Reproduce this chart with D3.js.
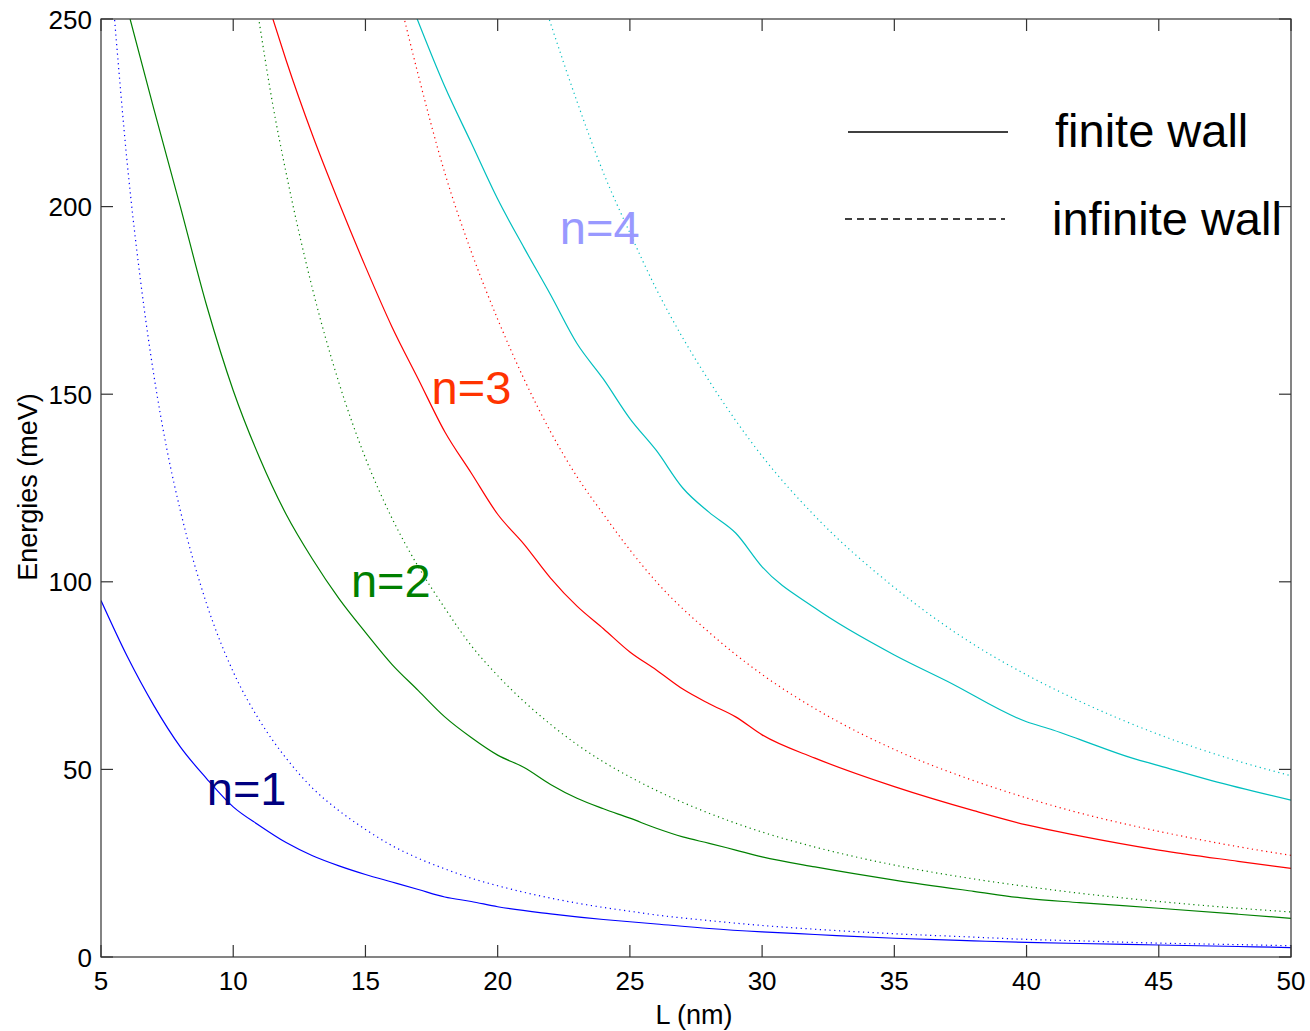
<!DOCTYPE html>
<html lang="en">
<head>
<meta charset="UTF-8">
<title>Energies vs L</title>
<script src="https://d3js.org/d3.v7.min.js"></script>
<style>
  body { margin: 0; background: #fff; }
  svg { display: block; font-family: "Liberation Sans", Arial, sans-serif; }
  .frame { fill: none; stroke: #333; stroke-width: 1.2px; }
  .tick-mark { stroke: #333; stroke-width: 1.2px; }
  .tick-label { font-size: 26px; fill: #000; }
  .axis-title { font-size: 27px; fill: #000; }
  .curve { fill: none; stroke-width: 1.2px; }
  .legend-text { font-size: 47px; fill: #000; }
  .n-label { font-size: 47px; }
</style>
</head>
<body>
<svg width="1310" height="1031"></svg>
<script>
// axis ticks
const xTicks = [5, 10, 15, 20, 25, 30, 35, 40, 45, 50];
const yTicks = [0, 50, 100, 150, 200, 250];

// finite wall levels, [L (nm), E (meV)]
const finiteN1 = [[5,95],[6,80],[7,67],[8,56],[9,47.5],[10,40],[11,35],[12,30.5],[13,27],[14,24.3],[15,22],[16,20],[17,18],[18,16],[19,14.8],[20,13.4],[22,11.5],[24,10],[25,9.4],[26,8.8],[28,7.6],[30,6.7],[32,6],[35,5],[38,4.3],[40,3.9],[42,3.6],[45,3.2],[48,2.8],[50,2.5]];
const finiteN2 = [[6.1,250],[7,226],[8,200],[9,173.5],[10,151],[11,133],[12,118],[13,106],[14,95.5],[15,86.5],[16,78],[17,71],[18,64],[19,58.5],[20,53.8],[21,50.5],[22,46],[23,42.3],[24,39.5],[25,37],[26,34.3],[27,32],[28,30.3],[29,28.5],[30,26.7],[32,24],[35,20.5],[38,17.5],[40,15.6],[42,14.5],[45,13],[48,11.4],[50,10.3]];
const finiteN3 = [[11.5,250],[12,239],[13,219],[14,201],[15,184],[16,168],[17,154],[18,140],[19,129],[20,118],[21,110],[22,101],[23,93.5],[24,87.5],[25,81.3],[26,76.5],[27,71.4],[28,67.5],[29,64],[30,59.2],[32,53],[35,45.4],[38,39],[40,35.2],[42,32.3],[45,28.5],[48,25.5],[50,23.6]];
const finiteN4 = [[16.9,251],[18,232],[19,217],[20,202],[21,189],[22,176.5],[23,163.5],[24,154],[25,143.5],[26,135],[27,125],[28,118.5],[29,113],[30,104],[32,93],[35,80.5],[37,73.5],[40,62.7],[41,60.5],[42,58],[44,53],[45,51],[47,47],[50,41.8]];

// infinite wall levels
const infiniteN1 = [[5.5,251],[6,211],[6.5,180],[7,155],[7.5,135],[8,119],[9,94],[10,76],[11,63],[12,53],[13,45],[14,39],[15,34],[16,29.7],[17,26.3],[18,23.5],[19,21],[20,19],[22,15.7],[24,13.2],[25,12.2],[26,11.2],[28,9.7],[30,8.4],[32,7.4],[35,6.2],[38,5.3],[40,4.7],[42,4.3],[45,3.7],[48,3.3],[50,3.0]];
const infiniteN2 = [[10.9,253],[11.5,227],[12,209],[13,178],[14,153],[15,133],[16,117],[17,104],[18,93],[19,83],[20,75],[22,62],[24,52],[25,48],[26,44.4],[28,38.3],[30,33.3],[32,29.3],[35,24.5],[38,20.8],[40,18.8],[42,17],[45,14.8],[48,13],[50,12]];
const infiniteN3 = [[16.4,252],[17,235],[18,209],[19,188],[20,170],[21,154],[22,140],[23,128],[24,118],[25,108.5],[26,100],[28,86.5],[30,75.3],[32,66.2],[35,55.3],[38,47],[40,42.4],[42,38.4],[45,33.5],[48,29.4],[50,27.1]];
const infiniteN4 = [[21.9,251],[23,228],[24,209],[25,193],[26,178],[27,165],[28,153.5],[30,133.5],[32,117.5],[35,98.5],[38,83.3],[40,75.2],[42,68.2],[45,59.3],[48,52.2],[50,48.3]];

const curveColors = ["#0000ff", "#008000", "#ff0000", "#00bfbf"];
const labelText = ["n=1", "n=2", "n=3", "n=4"];
const labelColors = ["#000080", "#008000", "#ff3300", "#9999ff"];
const labelPos = [[9.0, 40.5], [14.45, 96], [17.5, 147.4], [22.35, 190]]; // [L, E] of label baseline start

const svg = d3.select("svg");
const plotLeft = 101, plotRight = 1291, plotTop = 19, plotBottom = 957;

const x = d3.scaleLinear().domain([5, 50]).range([plotLeft, plotRight]);
const y = d3.scaleLinear().domain([0, 250]).range([plotBottom, plotTop]);

svg.append("clipPath").attr("id", "plot-clip")
  .append("rect")
  .attr("x", plotLeft).attr("y", plotTop)
  .attr("width", plotRight - plotLeft).attr("height", plotBottom - plotTop);

const line = d3.line()
  .x(d => x(d[0]))
  .y(d => y(d[1]))
  .curve(d3.curveMonotoneX);

const plot = svg.append("g").attr("clip-path", "url(#plot-clip)");

const infinite = [infiniteN1, infiniteN2, infiniteN3, infiniteN4];
const finite = [finiteN1, finiteN2, finiteN3, finiteN4];

infinite.forEach((s, i) => {
  plot.append("path")
    .attr("class", "curve")
    .attr("d", line(s))
    .attr("stroke", curveColors[i])
    .attr("stroke-dasharray", "1.2,3.6");
});

finite.forEach((s, i) => {
  plot.append("path")
    .attr("class", "curve")
    .attr("d", line(s))
    .attr("stroke", curveColors[i]);
});

// n labels
labelText.forEach((t, i) => {
  svg.append("text")
    .attr("class", "n-label")
    .attr("x", x(labelPos[i][0]))
    .attr("y", y(labelPos[i][1]))
    .attr("fill", labelColors[i])
    .text(t);
});

// frame
svg.append("rect")
  .attr("class", "frame")
  .attr("x", plotLeft).attr("y", plotTop)
  .attr("width", plotRight - plotLeft).attr("height", plotBottom - plotTop);

// ticks inside the box on all four sides
const tl = 12;
xTicks.forEach(v => {
  svg.append("line").attr("class", "tick-mark")
    .attr("x1", x(v)).attr("x2", x(v)).attr("y1", plotBottom).attr("y2", plotBottom - tl);
  svg.append("line").attr("class", "tick-mark")
    .attr("x1", x(v)).attr("x2", x(v)).attr("y1", plotTop).attr("y2", plotTop + tl);
  svg.append("text").attr("class", "tick-label")
    .attr("x", x(v)).attr("y", 990)
    .attr("text-anchor", "middle")
    .text(v);
});
yTicks.forEach(v => {
  svg.append("line").attr("class", "tick-mark")
    .attr("x1", plotLeft).attr("x2", plotLeft + tl).attr("y1", y(v)).attr("y2", y(v));
  svg.append("line").attr("class", "tick-mark")
    .attr("x1", plotRight).attr("x2", plotRight - tl).attr("y1", y(v)).attr("y2", y(v));
  svg.append("text").attr("class", "tick-label")
    .attr("x", 92).attr("y", y(v) + 9.5)
    .attr("text-anchor", "end")
    .text(v);
});

// axis titles
svg.append("text").attr("class", "axis-title")
  .attr("x", 694).attr("y", 1024)
  .attr("text-anchor", "middle")
  .text("L (nm)");
svg.append("text").attr("class", "axis-title")
  .attr("transform", "translate(37,487) rotate(-90)")
  .attr("text-anchor", "middle")
  .text("Energies (meV)");

// legend
svg.append("line")
  .attr("x1", 848).attr("x2", 1008).attr("y1", 132).attr("y2", 132)
  .attr("stroke", "#000").attr("stroke-width", 1.5);
svg.append("text").attr("class", "legend-text")
  .attr("x", 1055).attr("y", 147)
  .text("finite wall");
svg.append("line")
  .attr("x1", 845).attr("x2", 1005).attr("y1", 219).attr("y2", 219)
  .attr("stroke", "#000").attr("stroke-width", 1.5)
  .attr("stroke-dasharray", "7,5");
svg.append("text").attr("class", "legend-text")
  .attr("x", 1052).attr("y", 235)
  .text("infinite wall");
</script>
</body>
</html>
